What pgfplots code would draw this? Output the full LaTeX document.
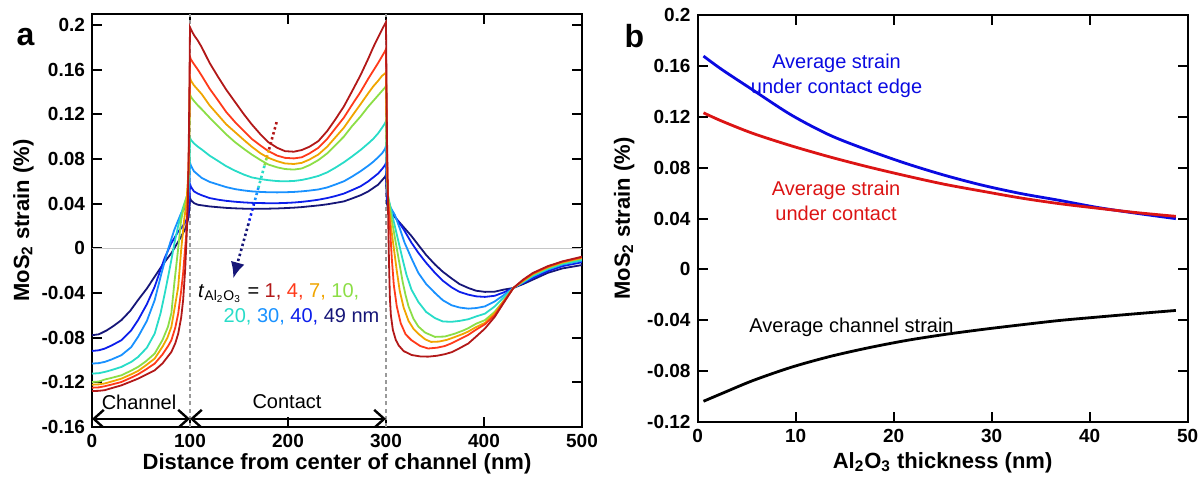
\documentclass[border=0pt]{standalone}
\usepackage{fontspec}
\setmainfont{Liberation Sans}
\usepackage{pgfplots}
\pgfplotsset{compat=1.18}
\usetikzlibrary{arrows.meta}
\definecolor{c1}{RGB}{178,24,24}
\definecolor{c4}{RGB}{255,58,26}
\definecolor{c7}{RGB}{240,165,0}
\definecolor{c10}{RGB}{140,222,70}
\definecolor{c20}{RGB}{40,220,200}
\definecolor{c30}{RGB}{25,145,255}
\definecolor{c40}{RGB}{12,30,235}
\definecolor{c49}{RGB}{22,22,120}
\definecolor{bblue}{RGB}{10,10,225}
\definecolor{rred}{RGB}{220,20,20}
\pgfplotsset{
  panel/.style={scale only axis, axis line style={line width=1pt},
    every tick/.style={black, line width=1pt}, major tick length=5pt,
    tick align=inside, no markers,
    xticklabel style={font=\bfseries\fontsize{9.5}{11}\selectfont},
    yticklabel style={font=\bfseries\fontsize{9.5}{11}\selectfont},
    label style={font=\bfseries\fontsize{11}{13}\selectfont}}
}
\begin{document}
\begin{tikzpicture}
\useasboundingbox (0,0) rectangle (600.5pt,239.5pt);
\node[font=\bfseries\fontsize{16}{18}\selectfont] at (12.75pt,221.2pt) {a};
\node[font=\bfseries\fontsize{16}{18}\selectfont] at (317.2pt,221.5pt) {b};
\begin{axis}[panel, at={(46pt,26pt)}, anchor=south west, width=245pt, height=206.5pt,
  xmin=0, xmax=500, ymin=-0.16, ymax=0.2098,
  xtick={0,100,200,300,400,500}, xticklabels={0,100,200,300,400,500},
  ytick={-0.16,-0.12,-0.08,-0.04,0,0.04,0.08,0.12,0.16,0.2},
  yticklabels={-0.16,-0.12,-0.08,-0.04,0,0.04,0.08,0.12,0.16,0.2},
  xlabel={Distance from center of channel (nm)},
  ylabel={MoS\textsubscript{2} strain (\%)},
  xlabel style={at={(axis description cs:0.5,-0.088)}, anchor=center},
  ylabel style={at={(axis description cs:-0.14,0.5)}, anchor=center}]
\addplot[gray!45, line width=0.5pt] coordinates {(0,0)(500,0)};
\addplot[gray!80, line width=0.7pt, dash pattern=on 2pt off 1.6pt] coordinates {(100,-0.16)(100,0.2098)};
\addplot[gray!80, line width=0.7pt, dash pattern=on 2pt off 1.6pt] coordinates {(300,-0.16)(300,0.2098)};
% t = 49
\addplot[c49, line width=0.9pt] coordinates {(0,-0.0778)(7,-0.077)(15,-0.0735)(22,-0.0695)(30,-0.0643)(39,-0.056)(47,-0.0463)(56,-0.036)(64,-0.0253)(72,-0.0148)(81,-0.0043)(88,0.006)(91,0.0106)(95,0.017)(98,0.0256)(99.5,0.036)(100,0.045)
(101,0.043)(104,0.0405)(108,0.039)(112,0.0385)(120,0.0375)(129,0.0368)(137,0.0362)(146,0.0358)(155,0.0355)(163,0.0354)(172,0.0354)(180,0.0355)(189,0.0357)(197,0.036)(206,0.0364)(214,0.0369)(222,0.0376)(231,0.0384)(240,0.0394)(248,0.0406)(257,0.042)(265,0.0445)(274,0.0475)(282,0.051)(287,0.054)(292,0.057)(296,0.061)(299,0.064)(300,0.066)
(301,0.04)(302,0.036)(306,0.031)(311,0.026)(318,0.019)(326,0.011)(333,0.003)(341,-0.006)(350,-0.0145)(358,-0.021)(367,-0.027)(375,-0.032)(384,-0.0355)(392,-0.038)(401,-0.039)(411,-0.0388)(420,-0.037)(430,-0.0355)(440,-0.032)(450,-0.028)(465,-0.022)(480,-0.018)(500,-0.015)};
% t = 40
\addplot[c40, line width=0.9pt] coordinates {(0,-0.0919)(7,-0.0913)(13,-0.0898)(20,-0.087)(30,-0.0823)(40,-0.0735)(47,-0.0643)(56,-0.050)(64,-0.0343)(70,-0.019)(74,-0.009)(81,0.0047)(88,0.015)(91,0.018)(95,0.023)(98,0.0286)(99.5,0.042)(100,0.0575)
(101,0.055)(104,0.051)(108,0.049)(112,0.0475)(120,0.045)(129,0.0435)(137,0.0425)(146,0.0417)(155,0.0411)(163,0.0407)(172,0.0405)(180,0.0404)(189,0.0404)(197,0.0406)(206,0.041)(214,0.0416)(222,0.0424)(231,0.0435)(240,0.045)(248,0.0467)(257,0.049)(265,0.052)(274,0.0555)(282,0.060)(287,0.0635)(292,0.067)(296,0.071)(299,0.0745)(300,0.0766)
(301,0.045)(302,0.039)(306,0.033)(311,0.026)(318,0.017)(326,0.005)(333,-0.004)(341,-0.013)(350,-0.022)(358,-0.029)(367,-0.035)(375,-0.039)(384,-0.0415)(392,-0.043)(401,-0.0435)(411,-0.0425)(420,-0.0395)(430,-0.0355)(440,-0.031)(450,-0.0265)(465,-0.0205)(480,-0.016)(500,-0.0125)};
% t = 30
\addplot[c30, line width=0.9pt] coordinates {(0,-0.1032)(7,-0.1028)(13,-0.1017)(20,-0.0995)(30,-0.0957)(40,-0.0885)(47,-0.0793)(56,-0.065)(64,-0.0463)(71,-0.022)(77.5,-0.0013)(84,0.0166)(91,0.0316)(95,0.036)(98,0.0406)(99.5,0.058)(100,0.0766)
(101,0.074)(104,0.069)(108,0.066)(112,0.063)(120,0.0595)(129,0.057)(137,0.0548)(146,0.053)(155,0.0518)(163,0.051)(172,0.0505)(180,0.0502)(189,0.0501)(197,0.0502)(206,0.0505)(214,0.051)(222,0.0517)(231,0.0527)(240,0.0545)(248,0.057)(257,0.060)(265,0.064)(274,0.069)(282,0.074)(287,0.0775)(292,0.0815)(296,0.085)(299,0.089)(300,0.0915)
(301,0.055)(302,0.044)(305,0.036)(309,0.03)(314,0.018)(319,0.005)(326,-0.009)(333,-0.022)(341,-0.032)(350,-0.040)(358,-0.0465)(367,-0.051)(375,-0.053)(384,-0.054)(392,-0.0535)(401,-0.052)(411,-0.0475)(420,-0.042)(430,-0.0355)(440,-0.0305)(450,-0.025)(465,-0.019)(480,-0.0145)(500,-0.011)};
% t = 20
\addplot[c20, line width=0.9pt] coordinates {(0,-0.1122)(7,-0.1118)(13,-0.1107)(20,-0.109)(30,-0.1062)(40,-0.1018)(47,-0.0973)(56,-0.089)(64,-0.0763)(70,-0.058)(74.3,-0.0403)(78,-0.024)(81,-0.0103)(84,0.004)(87.8,0.0196)(92,0.034)(95,0.042)(98,0.05)(99.5,0.07)(100,0.099)
(101,0.097)(104,0.094)(108,0.091)(112,0.0885)(120,0.083)(129,0.078)(137,0.0735)(146,0.0695)(155,0.066)(163,0.0635)(172,0.062)(180,0.061)(189,0.0602)(197,0.060)(206,0.0603)(214,0.0612)(222,0.0627)(231,0.0648)(240,0.068)(248,0.072)(257,0.077)(265,0.082)(274,0.088)(282,0.094)(287,0.098)(292,0.103)(296,0.108)(299,0.112)(300,0.114)
(301,0.06)(302,0.047)(305,0.035)(309,0.02)(313,0.005)(317,-0.01)(321,-0.024)(326,-0.037)(333,-0.048)(341,-0.057)(350,-0.0625)(358,-0.0655)(367,-0.0658)(375,-0.065)(384,-0.0635)(392,-0.061)(401,-0.0585)(411,-0.052)(420,-0.044)(430,-0.0355)(440,-0.030)(450,-0.0245)(465,-0.0185)(480,-0.014)(500,-0.0105)};
% t = 10
\addplot[c10, line width=0.9pt] coordinates {(0,-0.1197)(7,-0.1193)(13,-0.1175)(20,-0.116)(30,-0.1137)(40,-0.1095)(47,-0.1062)(55,-0.1012)(64,-0.0942)(72,-0.082)(77.5,-0.0703)(81,-0.058)(84,-0.0313)(87.8,-0.0013)(91,0.0256)(94.5,0.040)(97,0.047)(99,0.07)(100,0.138)
(101,0.1355)(104,0.132)(108,0.128)(112,0.1245)(120,0.117)(129,0.109)(137,0.102)(146,0.095)(155,0.089)(163,0.084)(172,0.079)(180,0.075)(189,0.0725)(197,0.071)(206,0.0705)(214,0.0715)(222,0.0745)(231,0.079)(240,0.085)(248,0.092)(257,0.100)(265,0.109)(274,0.118)(282,0.127)(287,0.132)(292,0.137)(296,0.141)(299,0.144)(300,0.1455)
(301,0.065)(302,0.048)(305,0.03)(309,0.01)(313,-0.01)(317,-0.03)(320,-0.042)(323,-0.052)(328,-0.063)(333,-0.070)(340,-0.0755)(350,-0.0793)(360,-0.079)(370,-0.0765)(379,-0.0735)(384,-0.0715)(392,-0.0675)(401,-0.0643)(411,-0.0568)(420,-0.047)(430,-0.0355)(440,-0.0295)(450,-0.0235)(465,-0.0175)(480,-0.013)(500,-0.009)};
% t = 7
\addplot[c7, line width=0.9pt] coordinates {(0,-0.1221)(7,-0.1218)(13,-0.121)(20,-0.1193)(30,-0.1167)(40,-0.1128)(47,-0.1098)(55,-0.1048)(64,-0.0987)(72,-0.088)(77,-0.080)(81,-0.0703)(85,-0.05)(88,-0.0343)(91,-0.0013)(94,0.025)(96.5,0.042)(98.5,0.07)(100,0.153)
(101,0.150)(104,0.146)(108,0.142)(112,0.138)(120,0.128)(129,0.119)(137,0.111)(146,0.104)(155,0.097)(163,0.091)(172,0.085)(180,0.081)(189,0.078)(197,0.076)(206,0.0755)(214,0.0765)(222,0.0795)(231,0.084)(240,0.091)(248,0.099)(257,0.108)(265,0.118)(274,0.129)(282,0.139)(287,0.145)(292,0.150)(296,0.1545)(299,0.1565)(300,0.1575)
(301,0.07)(302,0.045)(305,0.02)(308,0.0)(311,-0.02)(314,-0.038)(318,-0.053)(323,-0.065)(328,-0.072)(333,-0.0765)(340,-0.0815)(346,-0.0838)(354,-0.0835)(362,-0.082)(370,-0.0795)(379,-0.0765)(384,-0.0745)(392,-0.0705)(401,-0.0667)(411,-0.058)(420,-0.0475)(430,-0.0355)(440,-0.029)(450,-0.023)(465,-0.017)(480,-0.0125)(500,-0.0085)};
% t = 4
\addplot[c4, line width=0.9pt] coordinates {(0,-0.1248)(7,-0.1245)(13,-0.1235)(20,-0.122)(30,-0.1197)(40,-0.1158)(47,-0.1128)(55,-0.1085)(64,-0.1032)(72,-0.095)(78,-0.087)(81,-0.0823)(85,-0.071)(88,-0.0583)(91,-0.038)(93,-0.022)(95,0.0)(96,0.01)(97.5,0.04)(99,0.09)(100,0.1715)
(101,0.169)(104,0.165)(108,0.160)(112,0.1545)(120,0.143)(129,0.132)(137,0.122)(146,0.113)(155,0.105)(163,0.098)(172,0.092)(180,0.087)(189,0.083)(197,0.081)(206,0.0805)(214,0.0815)(222,0.085)(231,0.090)(240,0.098)(248,0.107)(257,0.117)(265,0.128)(274,0.140)(282,0.152)(287,0.159)(292,0.166)(296,0.172)(299,0.1765)(300,0.1785)
(301,0.09)(302,0.045)(304,0.02)(306,-0.01)(308,-0.033)(311,-0.052)(315,-0.067)(320,-0.077)(326,-0.0823)(335,-0.0875)(343,-0.0897)(352,-0.089)(360,-0.0875)(367,-0.085)(375,-0.0815)(384,-0.0775)(392,-0.0728)(401,-0.068)(411,-0.0598)(420,-0.048)(430,-0.0355)(440,-0.0285)(450,-0.0225)(465,-0.0165)(480,-0.012)(500,-0.008)};
% t = 1
\addplot[c1, line width=0.9pt] coordinates {(0,-0.1278)(7,-0.1276)(13,-0.127)(20,-0.1252)(30,-0.1227)(40,-0.1192)(47,-0.1167)(55,-0.1132)(64,-0.1092)(72,-0.103)(81,-0.0928)(85,-0.085)(88,-0.0763)(91,-0.062)(93,-0.0463)(95,-0.02)(96,-0.0013)(97,0.02)(98,0.045)(99,0.11)(100,0.198)
(101,0.196)(104,0.191)(108,0.186)(112,0.180)(120,0.166)(129,0.153)(137,0.142)(146,0.131)(155,0.120)(163,0.111)(172,0.102)(180,0.095)(189,0.090)(197,0.087)(206,0.0865)(214,0.088)(222,0.091)(231,0.096)(240,0.105)(248,0.115)(257,0.127)(265,0.140)(274,0.155)(282,0.170)(287,0.180)(292,0.189)(296,0.196)(299,0.201)(300,0.2025)
(301,0.10)(302,0.04)(303,-0.01)(304,-0.045)(305,-0.06)(307,-0.073)(310,-0.082)(313,-0.087)(318,-0.092)(326,-0.0955)(335,-0.0968)(343,-0.097)(352,-0.0962)(360,-0.0948)(367,-0.093)(375,-0.0895)(384,-0.0852)(392,-0.079)(401,-0.0718)(411,-0.0613)(420,-0.049)(430,-0.0355)(440,-0.028)(450,-0.022)(465,-0.016)(480,-0.0117)(500,-0.0075)};
% dotted arrow
\draw[c1, line width=1.3pt, dash pattern=on 1.2pt off 1.4pt] (axis cs:188.4,0.113) -- (axis cs:180.4,0.0878);
\draw[c7, line width=1.3pt, dash pattern=on 1.2pt off 1.4pt] (axis cs:180.4,0.0878) -- (axis cs:178.2,0.0808);
\draw[c10, line width=1.3pt, dash pattern=on 1.2pt off 1.4pt] (axis cs:178.2,0.0808) -- (axis cs:176.0,0.0739);
\draw[c20, line width=1.3pt, dash pattern=on 1.2pt off 1.4pt] (axis cs:176.0,0.0739) -- (axis cs:169.8,0.0543);
\draw[c30, line width=1.3pt, dash pattern=on 1.2pt off 1.4pt] (axis cs:169.8,0.0543) -- (axis cs:165.4,0.0403);
\draw[c40, line width=1.3pt, dash pattern=on 1.2pt off 1.4pt] (axis cs:165.4,0.0403) -- (axis cs:159.7,0.0221);
\draw[c49, line width=1.3pt, dash pattern=on 1.2pt off 1.4pt, -{Latex[length=8pt,width=7pt]}] (axis cs:159.7,0.0221) -- (axis cs:144.2,-0.0268);
% annotation
\node[anchor=base west, inner sep=0pt, font=\fontsize{10}{12}\selectfont] at (axis cs:108,-0.0439)
  {\textit{t}\textsubscript{Al\textsubscript{2}O\textsubscript{3}} = \textcolor{c1}{1,} \textcolor{c4}{4,} \textcolor{c7}{7,} \textcolor{c10}{10,}};
\node[anchor=base west, inner sep=0pt, font=\fontsize{10}{12}\selectfont] at (axis cs:134,-0.0663)
  {\textcolor{c20}{20,} \textcolor{c30}{30,} \textcolor{c40}{40,} \textcolor{c49}{49 nm}};
% channel / contact arrows
\draw[line width=1.2pt, {Straight Barb[length=5pt,width=9pt]}-{Straight Barb[length=5pt,width=9pt]}] (axis cs:0,-0.1527) -- (axis cs:100,-0.1527);
\draw[line width=1.2pt, {Straight Barb[length=5pt,width=9pt]}-{Straight Barb[length=5pt,width=9pt]}] (axis cs:100,-0.1527) -- (axis cs:300,-0.1527);
\node[font=\fontsize{10}{12}\selectfont] at (axis cs:48,-0.1377) {Channel};
\node[font=\fontsize{10}{12}\selectfont] at (axis cs:199,-0.1377) {Contact};
\end{axis}
\begin{axis}[panel, at={(348.8pt,28.5pt)}, anchor=south west, width=245pt, height=203.5pt,
  xmin=0, xmax=50, ymin=-0.12, ymax=0.2,
  xtick={0,10,20,30,40,50}, xticklabels={0,10,20,30,40,50},
  ytick={-0.12,-0.08,-0.04,0,0.04,0.08,0.12,0.16,0.2},
  yticklabels={-0.12,-0.08,-0.04,0,0.04,0.08,0.12,0.16,0.2},
  xlabel={Al\textsubscript{2}O\textsubscript{3} thickness (nm)},
  ylabel={MoS\textsubscript{2} strain (\%)},
  xlabel style={at={(axis description cs:0.5,-0.1)}, anchor=center},
  ylabel style={at={(axis description cs:-0.15,0.5)}, anchor=center}]
\addplot[bblue, line width=1.4pt, smooth] coordinates {(0.6,0.1677)(2.5,0.157)(5.65,0.141)(9.58,0.1213)(13.5,0.1055)(17.4,0.0937)(21.3,0.0832)(25.2,0.074)(29.1,0.0661)(33,0.0596)(36.9,0.0543)(40.8,0.0487)(44.7,0.0442)(48.8,0.0399)};
\addplot[rred, line width=1.4pt, smooth] coordinates {(0.6,0.1231)(2.5,0.1165)(5.65,0.1069)(9.58,0.0971)(13.5,0.0884)(17.4,0.0806)(21.3,0.0735)(25.2,0.0669)(29.1,0.0614)(33,0.0561)(36.9,0.0517)(40.8,0.0481)(44.7,0.0447)(48.8,0.0417)};
\addplot[black, line width=1.4pt, smooth] coordinates {(0.6,-0.1037)(2.5,-0.0975)(5.65,-0.0874)(9.58,-0.0769)(13.5,-0.0685)(17.4,-0.0617)(21.3,-0.0559)(25.2,-0.0512)(29.1,-0.0472)(33,-0.0436)(36.9,-0.0402)(40.8,-0.0375)(44.7,-0.0349)(48.8,-0.0323)};
\node[bblue, align=center, font=\fontsize{10}{12.5}\selectfont] at (axis cs:14.18,0.1524) {Average strain\\under contact edge};
\node[rred, align=center, font=\fontsize{10}{12.5}\selectfont] at (axis cs:14.13,0.0539) {Average strain\\under contact};
\node[font=\fontsize{10}{12}\selectfont] at (axis cs:15.71,-0.0454) {Average channel strain};
\end{axis}
\end{tikzpicture}
\end{document}
